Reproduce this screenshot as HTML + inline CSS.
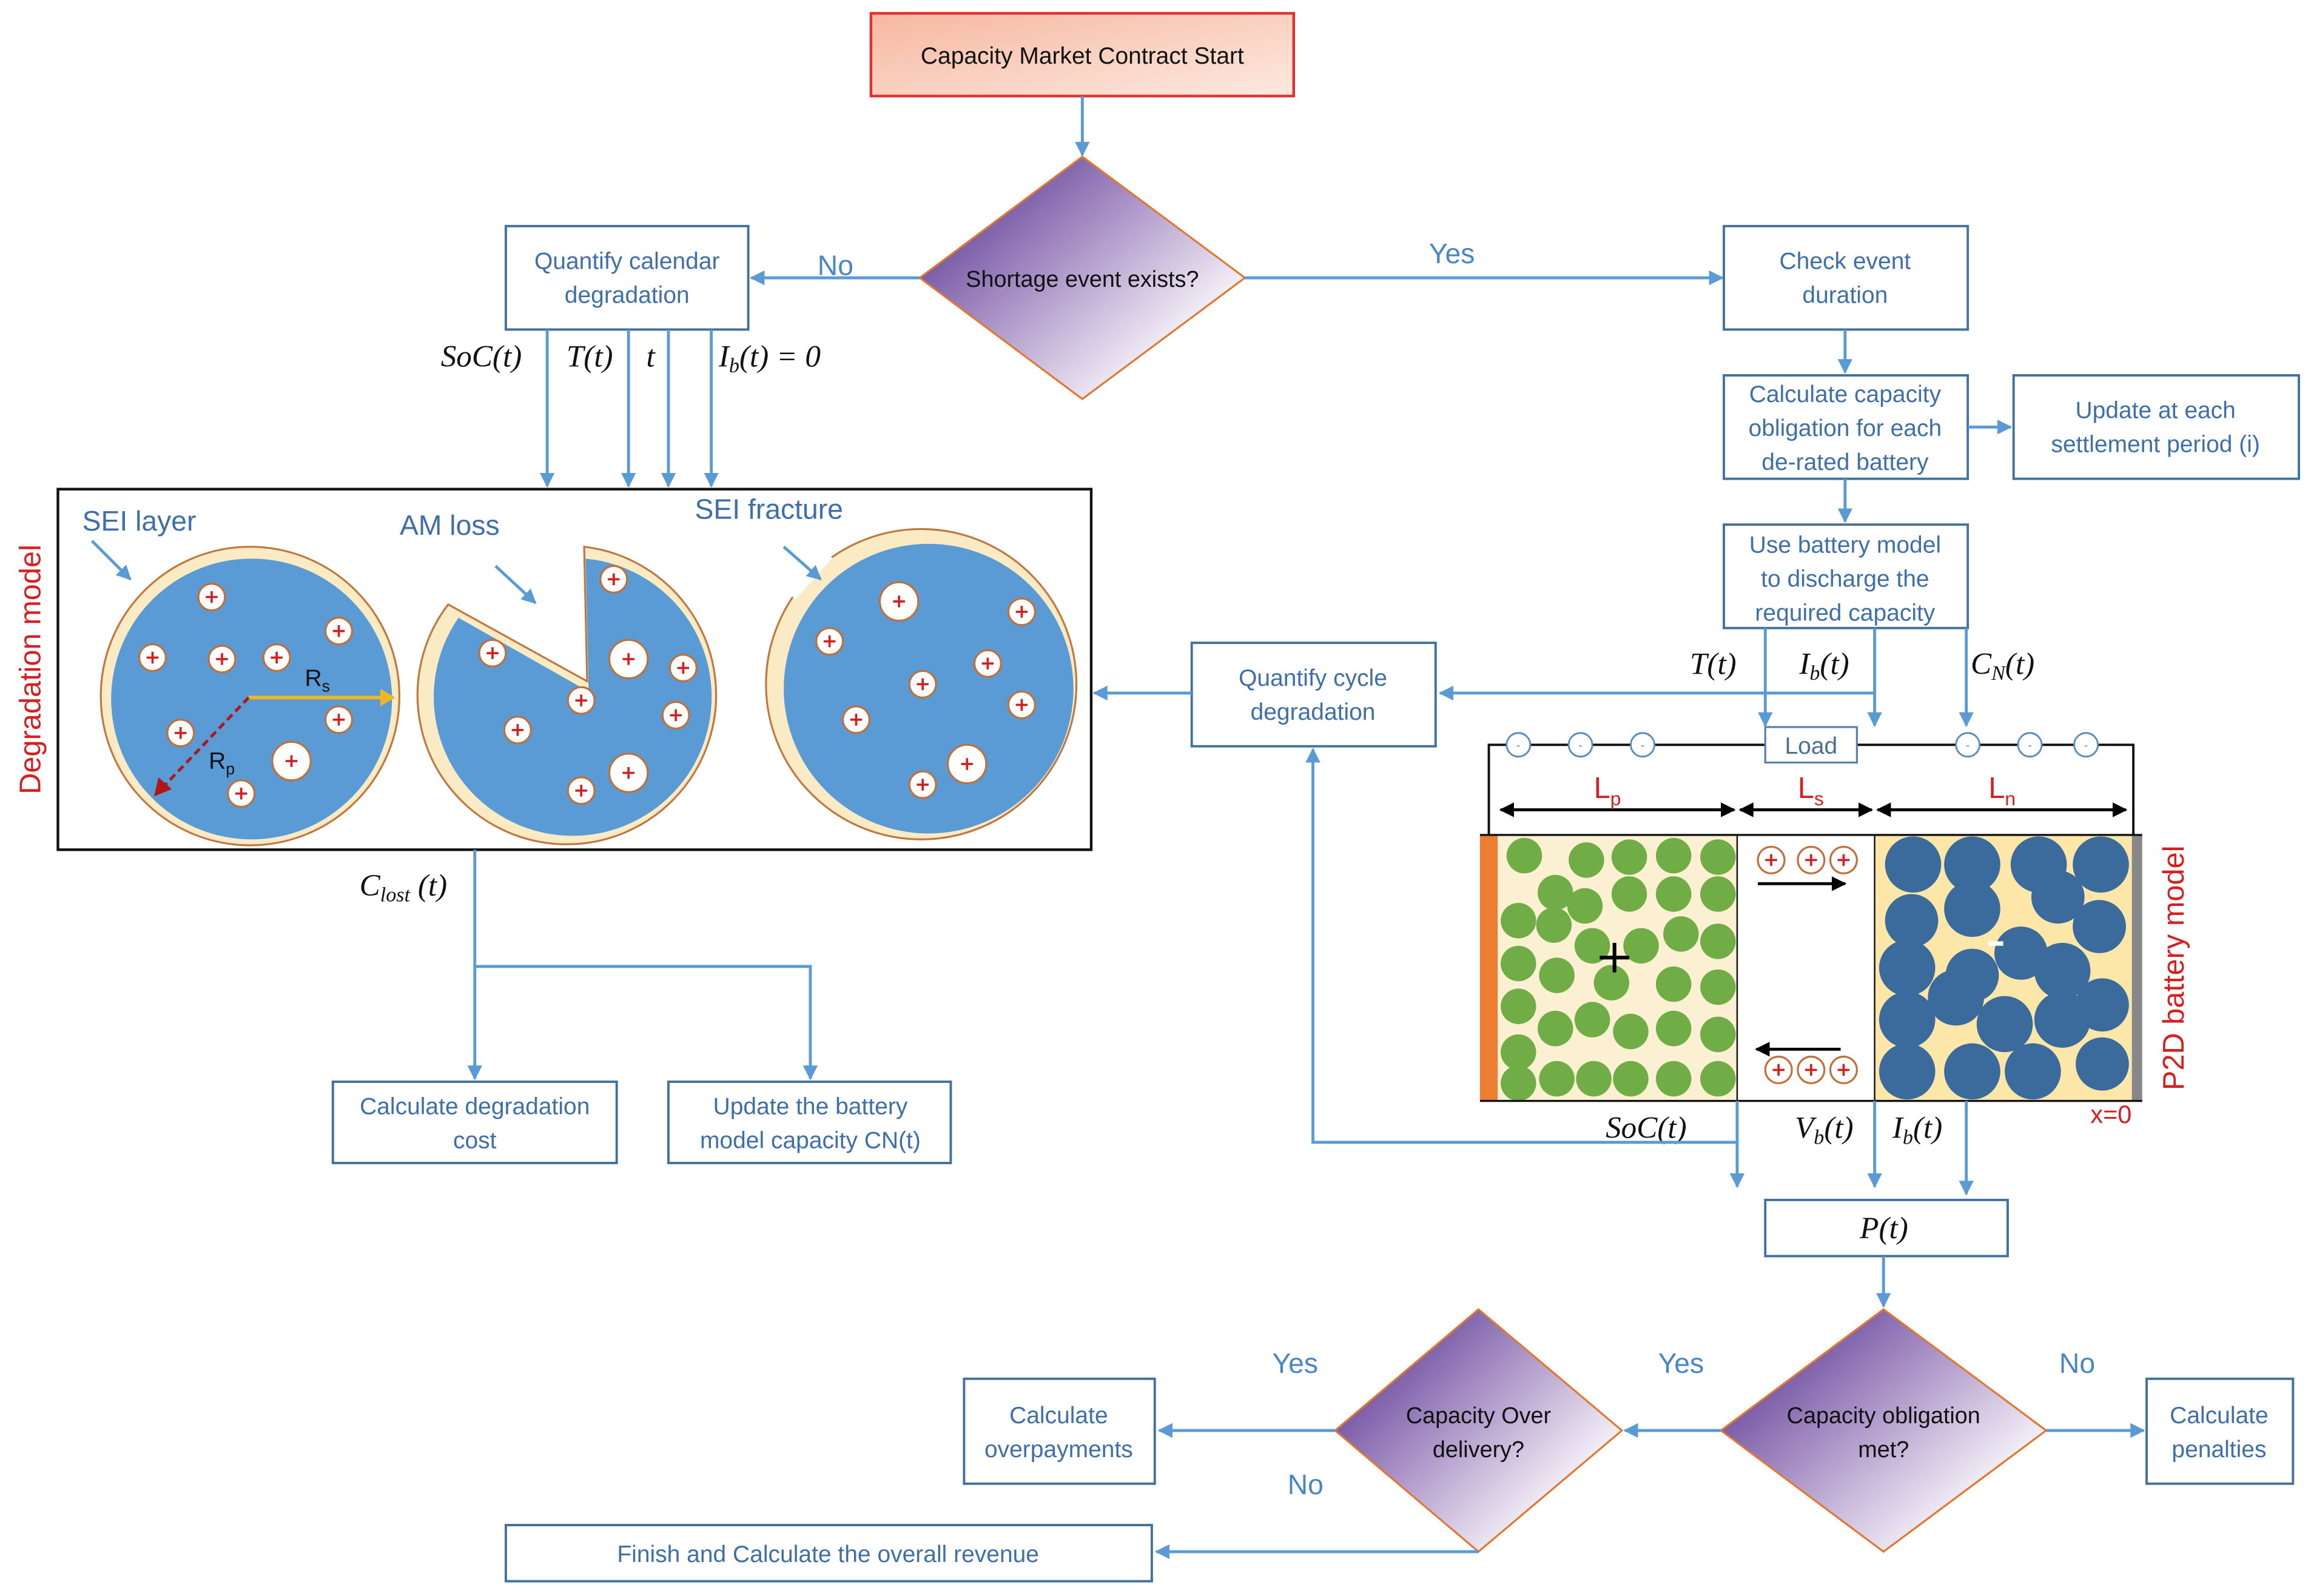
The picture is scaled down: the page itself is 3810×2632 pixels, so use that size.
<!DOCTYPE html>
<html><head><meta charset="utf-8"><style>
html,body{margin:0;padding:0;background:#fff;}
svg{display:block;}
.t{font-family:"Liberation Sans",sans-serif;font-size:16px;fill:#3E6FA8;text-anchor:middle;}
.d{font-family:"Liberation Sans",sans-serif;font-size:15.5px;fill:#111;text-anchor:middle;}
.m{font-family:"Liberation Serif",serif;font-style:italic;font-size:21px;fill:#111;}
.yn{font-family:"Liberation Sans",sans-serif;font-size:19px;fill:#4A86C6;text-anchor:middle;}
.box{fill:#fff;stroke:#41719C;stroke-width:1.6;}
.ln{stroke:#5B9BD5;stroke-width:2;fill:none;}
.red{font-family:"Liberation Sans",sans-serif;fill:#D42020;}
</style></head><body>
<svg width="3810" height="2632" viewBox="0 0 1563 1080" xmlns="http://www.w3.org/2000/svg">
<defs>
<linearGradient id="gtop" x1="0" y1="0" x2="1" y2="1"><stop offset="0" stop-color="#F6B8A0"/><stop offset="1" stop-color="#FDE9E0"/></linearGradient>
<linearGradient id="gd" x1="0.15" y1="0.2" x2="0.85" y2="0.8"><stop offset="0" stop-color="#6E4EA0"/><stop offset="0.5" stop-color="#B9A5D0"/><stop offset="1" stop-color="#FFFFFF"/></linearGradient>
<marker id="a" markerWidth="10" markerHeight="10" refX="9" refY="5" orient="auto" markerUnits="userSpaceOnUse"><path d="M0,0 L10,5 L0,10 z" fill="#5B9BD5"/></marker>
<marker id="y" markerWidth="10" markerHeight="12" refX="9" refY="6" orient="auto" markerUnits="userSpaceOnUse"><path d="M0,0 L10,6 L0,12 z" fill="#F0B820"/></marker>
<marker id="k" markerWidth="10" markerHeight="10" refX="9" refY="5" orient="auto" markerUnits="userSpaceOnUse"><path d="M0,0 L10,5 L0,10 z" fill="#000"/></marker>
<marker id="ks" markerWidth="10" markerHeight="10" refX="1" refY="5" orient="auto" markerUnits="userSpaceOnUse"><path d="M10,0 L0,5 L10,10 z" fill="#000"/></marker>
<g id="p"><circle r="9" fill="#fff" stroke="#C0703A" stroke-width="1.3"/><path d="M-4,0H4M0,-4V4" stroke="#D02020" stroke-width="1.5"/></g>
<g id="pb"><circle r="13" fill="#fff" stroke="#C0703A" stroke-width="1.3"/><path d="M-4,0H4M0,-4V4" stroke="#D02020" stroke-width="1.5"/></g>
</defs>

<rect x="589" y="9" width="286" height="56" fill="url(#gtop)" stroke="#E03030" stroke-width="1.8"/>
<text class="d" x="732" y="43" style="font-size:16px">Capacity Market Contract Start</text>
<path class="ln" d="M732,65V105" marker-end="url(#a)"/>

<polygon points="732,106 842,188 732,270 622,188" fill="url(#gd)" stroke="#E07830" stroke-width="1.3"/>
<text class="d" x="732" y="194">Shortage event exists?</text>
<path class="ln" d="M622,188H508" marker-end="url(#a)"/>
<text class="yn" x="565" y="186">No</text>
<path class="ln" d="M842,188H1165" marker-end="url(#a)"/>
<text class="yn" x="982" y="178">Yes</text>

<rect class="box" x="342" y="153" width="164" height="70"/>
<text class="t" x="424" y="182">Quantify calendar</text><text class="t" x="424" y="205">degradation</text>

<rect class="box" x="1166" y="153" width="165" height="70"/>
<text class="t" x="1248" y="182">Check event</text><text class="t" x="1248" y="205">duration</text>
<path class="ln" d="M1248,223V252" marker-end="url(#a)"/>
<rect class="box" x="1166" y="254" width="165" height="70"/>
<text class="t" x="1248" y="272">Calculate capacity</text><text class="t" x="1248" y="295">obligation for each</text><text class="t" x="1248" y="318">de-rated battery</text>
<path class="ln" d="M1331,289H1360" marker-end="url(#a)"/>
<rect class="box" x="1362" y="254" width="193" height="70"/>
<text class="t" x="1458" y="283">Update at each</text><text class="t" x="1458" y="306">settlement period (i)</text>
<path class="ln" d="M1248,324V353" marker-end="url(#a)"/>
<rect class="box" x="1166" y="355" width="165" height="70"/>
<text class="t" x="1248" y="374">Use battery model</text><text class="t" x="1248" y="397">to discharge the</text><text class="t" x="1248" y="420">required capacity</text>

<text class="m" x="1143" y="456">T(t)</text>
<text class="m" x="1217" y="456">I<tspan font-size="14" dy="4">b</tspan><tspan dy="-4">(t)</tspan></text>
<text class="m" x="1333" y="456">C<tspan font-size="14" dy="4">N</tspan><tspan dy="-4">(t)</tspan></text>
<path class="ln" d="M1194,425V491" marker-end="url(#a)"/>
<path class="ln" d="M1268,425V491" marker-end="url(#a)"/>
<path class="ln" d="M1330,425V491" marker-end="url(#a)"/>
<path class="ln" d="M1268,469H974" marker-end="url(#a)"/>

<rect class="box" x="806" y="435" width="165" height="70"/>
<text class="t" x="888" y="464">Quantify cycle</text><text class="t" x="888" y="487">degradation</text>
<path class="ln" d="M806,469H740" marker-end="url(#a)"/>

<text class="m" x="298" y="248">SoC(t)</text>
<text class="m" x="383" y="248">T(t)</text>
<text class="m" x="437" y="248">t</text>
<text class="m" x="486" y="248">I<tspan font-size="14" dy="4">b</tspan><tspan dy="-4">(t) = 0</tspan></text>
<path class="ln" d="M370,223V329" marker-end="url(#a)"/>
<path class="ln" d="M425,223V329" marker-end="url(#a)"/>
<path class="ln" d="M452,223V329" marker-end="url(#a)"/>
<path class="ln" d="M481,223V329" marker-end="url(#a)"/>

<rect x="39" y="331" width="699" height="244" fill="#fff" stroke="#111" stroke-width="1.8"/>
<text class="red" font-size="20" transform="translate(27,453) rotate(-90)" text-anchor="middle">Degradation model</text>
<text class="t" x="94" y="359" style="font-size:19px">SEI layer</text>
<text class="t" x="304" y="362" style="font-size:19px">AM loss</text>
<text class="t" x="520" y="351" style="font-size:19px">SEI fracture</text>

<circle cx="169" cy="471" r="101" fill="#FBEBC4" stroke="#C07840" stroke-width="1.3"/>
<circle cx="170" cy="473" r="95" fill="#5B9BD5"/>
<use href="#p" x="143" y="404"/><use href="#p" x="229" y="427"/><use href="#p" x="103" y="445"/><use href="#p" x="150" y="446"/><use href="#p" x="187" y="445"/><use href="#p" x="229" y="487"/><use href="#p" x="122" y="496"/><use href="#pb" x="197" y="515"/><use href="#p" x="163" y="537"/>
<path d="M168,472H266" stroke="#F0B820" stroke-width="2.5" marker-end="url(#y)"/>
<path d="M168,472L106,537" stroke="#B01818" stroke-width="2" stroke-dasharray="5,3"/>
<path d="M104,539l3,-13 9,8z" fill="#B01818"/>
<text x="206" y="464" font-family="Liberation Sans" font-size="16" fill="#111">R<tspan font-size="11" dy="4">s</tspan></text>
<text x="141" y="520" font-family="Liberation Sans" font-size="16" fill="#111">R<tspan font-size="11" dy="4">p</tspan></text>

<path d="M395,370 A101,101 0 1 1 303,409 L397,461 Z" fill="#FBEBC4" stroke="#C07840" stroke-width="1.3"/>
<path d="M396,378 A94,94 0 1 1 310,418 L398,468 Z" fill="#5B9BD5"/>
<use href="#p" x="415" y="392"/><use href="#p" x="333" y="442"/><use href="#pb" x="425" y="446"/><use href="#p" x="462" y="452"/><use href="#p" x="393" y="474"/><use href="#p" x="457" y="484"/><use href="#p" x="350" y="494"/><use href="#pb" x="425" y="523"/><use href="#p" x="393" y="535"/>

<circle cx="623" cy="463" r="105" fill="#FBEBC4" stroke="#C07840" stroke-width="1.3"/>
<path d="M535,403 L560,375 Z" stroke="#fff" stroke-width="8"/>
<circle cx="628" cy="466" r="98" fill="#5B9BD5"/>
<use href="#pb" x="608" y="407"/><use href="#p" x="691" y="414"/><use href="#p" x="561" y="434"/><use href="#p" x="668" y="449"/><use href="#p" x="624" y="463"/><use href="#p" x="691" y="477"/><use href="#p" x="579" y="487"/><use href="#pb" x="654" y="517"/><use href="#p" x="624" y="531"/>

<path class="ln" d="M62,366L88,392" marker-end="url(#a)"/>
<path class="ln" d="M335,383L362,408" marker-end="url(#a)"/>
<path class="ln" d="M530,370L555,392" marker-end="url(#a)"/>

<text class="m" x="243" y="606">C<tspan font-size="14" dy="4">lost</tspan><tspan dy="-4"> (t)</tspan></text>
<path class="ln" d="M321,575V730" marker-end="url(#a)"/>
<path class="ln" d="M321,654H548V730" marker-end="url(#a)"/>
<rect class="box" x="225" y="732" width="192" height="55"/>
<text class="t" x="321" y="754">Calculate degradation</text><text class="t" x="321" y="777">cost</text>
<rect class="box" x="452" y="732" width="191" height="55"/>
<text class="t" x="548" y="754">Update the battery</text><text class="t" x="548" y="777">model capacity CN(t)</text>

<path d="M1007,565V504H1443V565" stroke="#111" stroke-width="1.6" fill="none"/>
<g fill="#fff" stroke="#5B8CC0" stroke-width="1.2">
<circle cx="1027" cy="504" r="8"/><circle cx="1069" cy="504" r="8"/><circle cx="1111" cy="504" r="8"/>
<circle cx="1331" cy="504" r="8"/><circle cx="1373" cy="504" r="8"/><circle cx="1411" cy="504" r="8"/>
</g>
<g font-family="Liberation Sans" font-size="8" fill="#5B8CC0" text-anchor="middle">
<text x="1027" y="507">-</text><text x="1069" y="507">-</text><text x="1111" y="507">-</text><text x="1331" y="507">-</text><text x="1373" y="507">-</text><text x="1411" y="507">-</text></g>
<rect x="1194" y="492" width="62" height="24" fill="#fff" stroke="#5B7FA8" stroke-width="1.3"/>
<text class="t" x="1225" y="510" style="fill:#4F6F90">Load</text>
<path d="M1015,548H1173" stroke="#000" stroke-width="2" marker-start="url(#ks)" marker-end="url(#k)"/>
<path d="M1177,548H1266" stroke="#000" stroke-width="2" marker-start="url(#ks)" marker-end="url(#k)"/>
<path d="M1270,548H1438" stroke="#000" stroke-width="2" marker-start="url(#ks)" marker-end="url(#k)"/>
<text class="red" font-size="20" x="1078" y="540">L<tspan font-size="13" dy="5">p</tspan></text>
<text class="red" font-size="20" x="1216" y="540">L<tspan font-size="13" dy="5">s</tspan></text>
<text class="red" font-size="20" x="1345" y="540">L<tspan font-size="13" dy="5">n</tspan></text>

<rect x="1001" y="565" width="12" height="180" fill="#ED7D31"/>
<rect x="1013" y="565" width="162" height="180" fill="#FBF0D2"/>
<rect x="1175" y="565" width="93" height="180" fill="#fff"/>
<rect x="1268" y="565" width="174" height="180" fill="#FCE6A8"/>
<rect x="1442" y="565" width="7" height="180" fill="#888"/>
<g fill="#70AD47">
<circle cx="1031" cy="579" r="12"/><circle cx="1073" cy="582" r="12"/><circle cx="1102" cy="580" r="12"/><circle cx="1132" cy="579" r="12"/><circle cx="1162" cy="580" r="12"/>
<circle cx="1052" cy="604" r="12"/><circle cx="1027" cy="623" r="12"/><circle cx="1072" cy="613" r="12"/><circle cx="1102" cy="605" r="12"/><circle cx="1132" cy="605" r="12"/><circle cx="1162" cy="605" r="12"/>
<circle cx="1051" cy="626" r="12"/><circle cx="1077" cy="640" r="12"/><circle cx="1027" cy="652" r="12"/><circle cx="1110" cy="640" r="12"/><circle cx="1162" cy="637" r="12"/><circle cx="1137" cy="632" r="12"/>
<circle cx="1053" cy="660" r="12"/><circle cx="1090" cy="665" r="12"/><circle cx="1027" cy="681" r="12"/><circle cx="1132" cy="666" r="12"/><circle cx="1162" cy="668" r="12"/>
<circle cx="1052" cy="696" r="12"/><circle cx="1077" cy="690" r="12"/><circle cx="1103" cy="698" r="12"/><circle cx="1132" cy="696" r="12"/><circle cx="1162" cy="700" r="12"/><circle cx="1027" cy="712" r="12"/>
<circle cx="1053" cy="730" r="12"/><circle cx="1078" cy="730" r="12"/><circle cx="1103" cy="730" r="12"/><circle cx="1132" cy="730" r="12"/><circle cx="1162" cy="730" r="12"/><circle cx="1027" cy="733" r="12"/>
</g>
<path d="M1082,648H1102M1092,638V658" stroke="#000" stroke-width="2.5"/>
<g fill="#3B6A9C">
<circle cx="1294" cy="585" r="19"/><circle cx="1334" cy="585" r="19"/><circle cx="1379" cy="585" r="19"/><circle cx="1421" cy="585" r="19"/>
<circle cx="1293" cy="623" r="18"/><circle cx="1334" cy="615" r="19"/><circle cx="1392" cy="607" r="18"/><circle cx="1420" cy="627" r="18"/>
<circle cx="1290" cy="655" r="19"/><circle cx="1367" cy="645" r="18"/><circle cx="1334" cy="660" r="18"/><circle cx="1395" cy="657" r="19"/>
<circle cx="1290" cy="690" r="19"/><circle cx="1323" cy="675" r="19"/><circle cx="1356" cy="693" r="19"/><circle cx="1395" cy="690" r="19"/><circle cx="1422" cy="680" r="18"/>
<circle cx="1290" cy="725" r="19"/><circle cx="1334" cy="725" r="19"/><circle cx="1375" cy="725" r="19"/><circle cx="1422" cy="720" r="18"/>
</g>
<rect x="1345" y="637" width="10" height="3" fill="#fff"/>
<path d="M1268,565V745" stroke="#111" stroke-width="1"/>
<path d="M1175,565V745" stroke="#111" stroke-width="1"/>
<path d="M1001,565H1449M1001,745H1449" stroke="#111" stroke-width="1.4"/>
<use href="#p" x="1198" y="582"/><use href="#p" x="1225" y="582"/><use href="#p" x="1247" y="582"/>
<use href="#p" x="1203" y="724"/><use href="#p" x="1225" y="724"/><use href="#p" x="1247" y="724"/>
<path d="M1189,598H1248" stroke="#000" stroke-width="2" marker-end="url(#k)"/>
<path d="M1245,710H1188" stroke="#000" stroke-width="2" marker-end="url(#k)"/>
<text class="red" font-size="20" transform="translate(1477,655) rotate(-90)" text-anchor="middle">P2D battery model</text>
<text class="red" font-size="17" x="1414" y="760">x=0</text>

<text class="m" x="1086" y="770">SoC(t)</text>
<text class="m" x="1214" y="770">V<tspan font-size="14" dy="4">b</tspan><tspan dy="-4">(t)</tspan></text>
<text class="m" x="1280" y="770">I<tspan font-size="14" dy="4">b</tspan><tspan dy="-4">(t)</tspan></text>
<path class="ln" d="M1175,745V803" marker-end="url(#a)"/>
<path class="ln" d="M1268,745V803" marker-end="url(#a)"/>
<path class="ln" d="M1330,745V808" marker-end="url(#a)"/>
<path class="ln" d="M1175,773H888V507" marker-end="url(#a)"/>

<rect class="box" x="1194" y="812" width="164" height="38"/>
<text class="m" x="1258" y="838">P(t)</text>
<path class="ln" d="M1274,850V884" marker-end="url(#a)"/>

<polygon points="1274,886 1384,968 1274,1050 1164,968" fill="url(#gd)" stroke="#E07830" stroke-width="1.3"/>
<text class="d" x="1274" y="963">Capacity obligation</text><text class="d" x="1274" y="986">met?</text>
<path class="ln" d="M1384,968H1450" marker-end="url(#a)"/>
<text class="yn" x="1405" y="929">No</text>
<rect class="box" x="1452" y="933" width="99" height="71"/>
<text class="t" x="1501" y="963">Calculate</text><text class="t" x="1501" y="986">penalties</text>
<path class="ln" d="M1164,968H1099" marker-end="url(#a)"/>
<text class="yn" x="1137" y="929">Yes</text>

<polygon points="1000,886 1097,968 1000,1050 903,968" fill="url(#gd)" stroke="#E07830" stroke-width="1.3"/>
<text class="d" x="1000" y="963">Capacity Over</text><text class="d" x="1000" y="986">delivery?</text>
<path class="ln" d="M903,968H784" marker-end="url(#a)"/>
<text class="yn" x="876" y="929">Yes</text>
<rect class="box" x="652" y="933" width="129" height="71"/>
<text class="t" x="716" y="963">Calculate</text><text class="t" x="716" y="986">overpayments</text>
<text class="yn" x="883" y="1011">No</text>
<path class="ln" d="M1000,1050H782" marker-end="url(#a)"/>
<rect class="box" x="342" y="1032" width="437" height="38"/>
<text class="t" x="560" y="1057">Finish and Calculate the overall revenue</text>
</svg>
</body></html>
